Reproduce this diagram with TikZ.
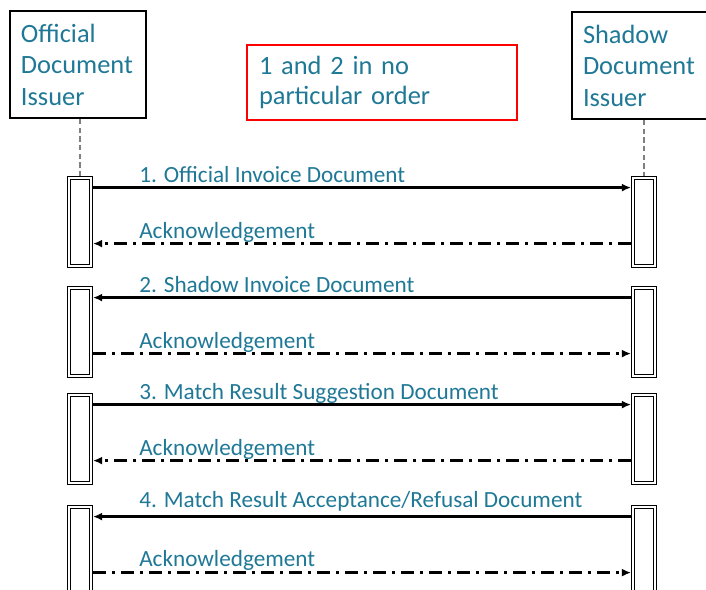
\documentclass[tikz,border=0pt]{standalone}
\usepackage{fontspec}
\setmainfont{Carlito}
\usetikzlibrary{arrows.meta}
\definecolor{labelteal}{RGB}{31,120,150}

\begin{document}
\begin{tikzpicture}[x=0.75pt,y=-0.75pt,
    actor/.style={draw,line width=1.4pt,text=labelteal,font=\fontsize{19.8}{23.6}\selectfont,
      align=left,text width=85.5pt,inner xsep=8pt,minimum height=80.25pt},
    note/.style={draw=red,line width=1.4pt,text=labelteal,font=\fontsize{19.8}{22.6}\selectfont,
      align=left,text width=184.5pt,inner xsep=9pt,minimum height=56.25pt},
    act/.style={draw,line width=0.6pt,minimum width=18.75pt,minimum height=68.25pt,inner sep=0pt,
      path picture={\draw[line width=0.6pt]
        ([shift={(2.3pt,-2.3pt)}]path picture bounding box.north west) rectangle
        ([shift={(-2.3pt,2.3pt)}]path picture bounding box.south east);}},
    life/.style={draw=gray,dash pattern=on 4pt off 2.5pt,line width=0.8pt},
    msg/.style={line width=1.7pt,-{Latex[length=7pt,width=6pt]}},
    ack/.style={msg,dash pattern=on 9.75pt off 4.5pt on 2.25pt off 4.5pt},
    lbl/.style={anchor=base west,text=labelteal,font=\fontsize{17.4}{20}\selectfont,inner sep=0pt}]
  % Okraje obrazku
  \useasboundingbox (0,0) rectangle (706,589);

  % Ucastnici
  \node[actor] (odi) at (78,64.5) {Official\\Document\\Issuer};
  \node[actor] (sdi) at (640,65.5) {Shadow\\Document\\Issuer};
  % Poznamka
  \node[note] (order) at (382,82.5) {1 and 2 in no\\particular order};

  % Aktivace
  \foreach \n/\y in {1/221.5,2/331.5,3/438.5,4/550.5} {
    \node[act] (aL\n) at (80,\y) {};
    \node[act] (aR\n) at (644,\y) {};
  }

  % Zivotni cary
  \draw[life] (aL1.north |- odi.south) -- (aL1.north);
  \draw[life] (aR1.north |- sdi.south) -- (aR1.north);

  % Zpravy
  \draw[msg] ([yshift=-9pt]aL1.north east) -- ([yshift=-9pt]aR1.north west);
  \node[lbl] (m1) at (139,182.5) {1. Official Invoice Document};
  \draw[ack] ([yshift=-51pt]aR1.north west) -- ([yshift=-51pt]aL1.north east);
  \node[lbl] (k1) at (139,238.5) {Acknowledgement};

  \draw[msg] ([yshift=-9pt]aR2.north west) -- ([yshift=-9pt]aL2.north east);
  \node[lbl] (m2) at (139,292.5) {2. Shadow Invoice Document};
  \draw[ack] ([yshift=-51pt]aL2.north east) -- ([yshift=-51pt]aR2.north west);
  \node[lbl] (k2) at (139,348.5) {Acknowledgement};

  \draw[msg] ([yshift=-9pt]aL3.north east) -- ([yshift=-9pt]aR3.north west);
  \node[lbl] (m3) at (139,399) {3. Match Result Suggestion Document};
  \draw[ack] ([yshift=-51pt]aR3.north west) -- ([yshift=-51pt]aL3.north east);
  \node[lbl] (k3) at (139,455.5) {Acknowledgement};

  \draw[msg] ([yshift=-9pt]aR4.north west) -- ([yshift=-9pt]aL4.north east);
  \node[lbl] (m4) at (139,507) {4. Match Result Acceptance/Refusal Document};
  \draw[ack] ([yshift=-51pt]aL4.north east) -- ([yshift=-51pt]aR4.north west);
  \node[lbl] (k4) at (139,566) {Acknowledgement};
\end{tikzpicture}
\end{document}
